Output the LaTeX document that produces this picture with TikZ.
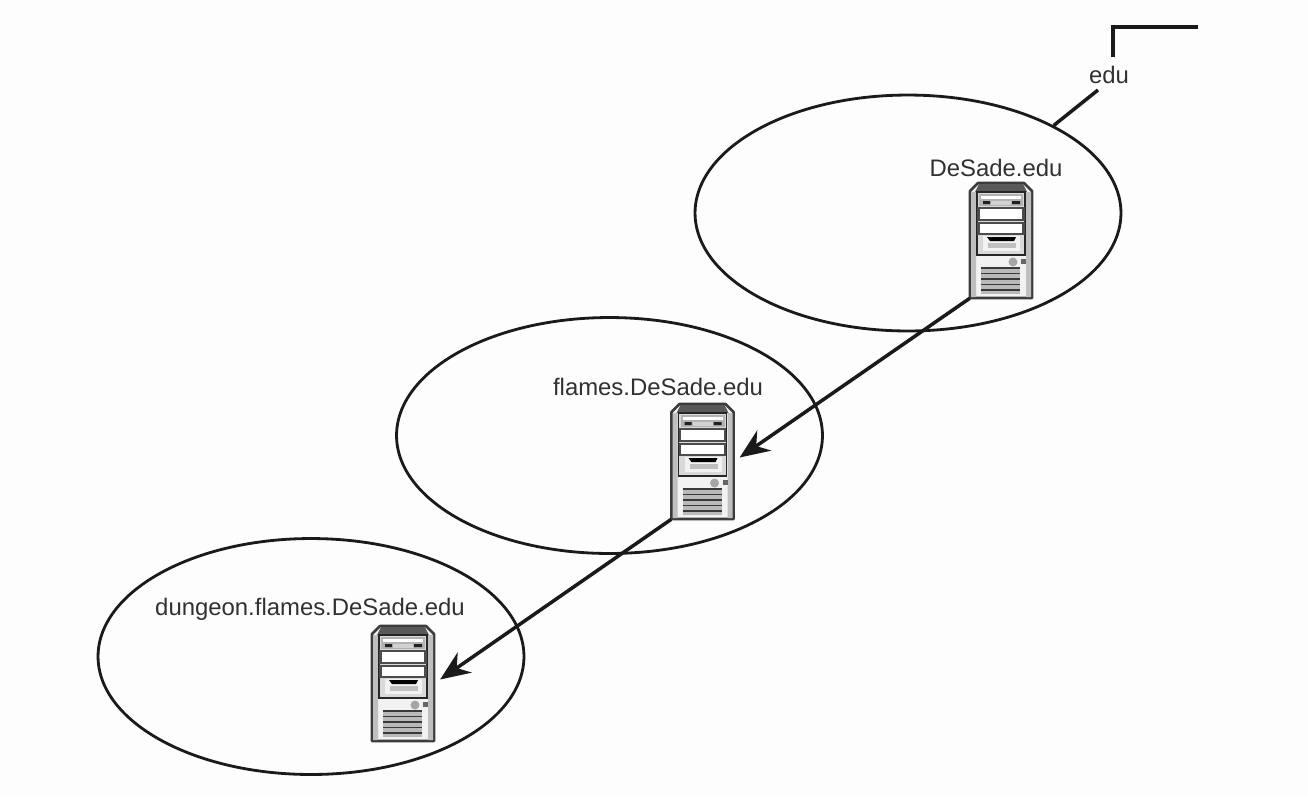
\documentclass[tikz,border=0pt]{standalone}
\usepackage{fontspec}
\setmainfont{Liberation Sans}
\usetikzlibrary{arrows.meta,shapes.geometric}
\definecolor{pagewhite}{HTML}{FDFDFD}
\definecolor{inkdark}{HTML}{1A1A1A}
\tikzset{
  zone/.style={ellipse,draw=inkdark,line width=1.6pt,minimum width=8.52cm,minimum height=4.72cm},
  towerbox/.style={rectangle,minimum width=1.24cm,minimum height=2.3cm,inner sep=0pt},
  hostlabel/.style={font=\fontsize{13.6}{16}\selectfont,text=inkdark!90,inner sep=0pt},
  link/.style={line width=2pt,draw=inkdark},
  pics/servertower/.style={code={
    \begin{scope}[shift={(-31,-57.5)}]
      \draw[line width=1.5pt,draw=inkdark!85,fill=gray!10,line join=round] (0,115)--(0,8)--(8,0)--(54,0)--(62,8)--(62,115)--cycle;
      \fill[gray!50] (1,9) rectangle (6,114) (56,9) rectangle (61,114);
      \fill[gray!70!black] (9,1)--(53,1)--(57,9)--(5,9)--cycle;
      \draw[line width=1pt,draw=gray!30!black,fill=gray!30] (7,9) rectangle (55,72);
      \fill[gray!60] (9,11) rectangle (53,23);
      \fill[white] (11,13) rectangle (51,15.5);
      \fill[gray!25!black] (13,18) rectangle (20,21) (42,18) rectangle (50,21);
      \fill[gray!35] (21,17.5) rectangle (41,21.5);
      \draw[line width=1.2pt,draw=gray!60!black,fill=white] (8.5,25) rectangle (53.5,37);
      \draw[line width=1.2pt,draw=gray!60!black,fill=white] (8.5,40) rectangle (53.5,51);
      \fill[gray!10] (13,53) rectangle (50,68);
      \fill[black] (17,54) -- (46,54) -- (44,58) -- (20,58) -- cycle;
      \fill[gray!50] (18,60) rectangle (46,65);
      \fill[gray!70] (43,79) circle (4.5);
      \fill[gray!80!black] (51,75.5) rectangle (56,81);
      \fill[gray!55] (11,84) rectangle (50,111);
      \foreach \k in {85,90.5,96,101.5,107}
        \draw[line width=.9pt,draw=gray!45!black] (11,\k)--(50,\k);
    \end{scope}
  }}
}
\begin{document}
\begin{tikzpicture}[x=0.02cm,y=-0.02cm,>={Stealth[length=17pt,width=14pt]}]
  \useasboundingbox[fill=pagewhite] (0,0) rectangle (1308,796);
  % zones
  \node[zone] (zone1) at (908,213) {};
  \node[zone] (zone2) at (609.5,435.5) {};
  \node[zone] (zone3) at (311,656.5) {};
  % servers
  \node[towerbox] (tower1) at (1001,240.5) {};
  \node[towerbox] (tower2) at (702.5,461.5) {};
  \node[towerbox] (tower3) at (403,683.5) {};
  \foreach \t in {tower1,tower2,tower3}
  \pic at (\t) {servertower};
  % labels
  \node[hostlabel] (edu) at (1109,75) {edu};
  \node[hostlabel] (host1) at (996,168) {DeSade.edu};
  \node[hostlabel] (host2) at (658,387) {flames.DeSade.edu};
  \node[hostlabel] (host3) at (310,609) {dungeon.flames.DeSade.edu};
  % links
  \coordinate (parent) at (1198,27);
  \coordinate (corner) at (1113,27);
  \coordinate (eduup) at (1113,57);
  \coordinate (edudown) at (1098,90);
  \draw[link,line cap=butt] (parent) -- (corner) -- (eduup);
  \draw[link] (edudown) -- (zone1.31);
  \draw[link,->,shorten >=4pt] (tower1.south west) -- (tower2.east);
  \draw[link,->,shorten >=4pt] (tower2.south west) -- (tower3.east);
\end{tikzpicture}
\end{document}
